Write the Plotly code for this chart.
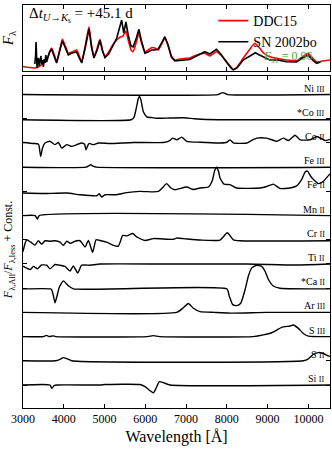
import plotly.graph_objects as go

# ---------------- top panel data ----------------
model_wave = [3000, 3150, 3300, 3450, 3550, 3620, 3700, 3770, 3825, 3900, 3965, 4030, 4110, 4200, 4315, 4380,
              4440, 4530, 4618, 4680, 4740, 4820, 4887, 4950, 5010, 5100, 5200, 5300, 5377, 5450, 5525, 5580,
              5650, 5700, 5780, 5843, 5900, 5990, 6070, 6150, 6230, 6318, 6400, 6480, 6560, 6640, 6725, 6850,
              7000, 7090, 7255, 7400, 7460, 7580, 7745, 7850, 7990, 8080, 8155, 8250, 8400, 8550, 8686, 8800,
              8900, 9054, 9250, 9460, 9710, 9850, 9993, 10100, 10200, 10350, 10530]
model_flux = [0.42, 0.32, 0.27, 0.57, 0.97, 1.47, 2.27, 1.57, 0.90, 2.07, 3.14, 2.57, 1.77, 1.87, 2.07, 1.47,
              0.90, 2.57, 4.40, 2.57, 1.40, 2.27, 3.14, 2.07, 1.40, 1.87, 2.57, 3.07, 3.34, 3.47, 3.97, 3.07,
              2.07, 1.90, 2.87, 3.74, 2.87, 1.90, 2.07, 2.30, 2.27, 2.07, 2.67, 3.24, 2.47, 1.47, 1.07, 1.17,
              1.24, 1.27, 1.57, 1.72, 1.74, 1.47, 1.90, 1.57, 0.90, 0.47, 0.12, 0.37, 1.24, 2.07, 2.74, 2.27,
              1.77, 1.40, 1.22, 1.07, 1.00, 1.37, 1.74, 1.27, 0.90, 0.97, 1.07]

obs_wave = [3290, 3310, 3320, 3330, 3345, 3360, 3380, 3400, 3420, 3440, 3460, 3480, 3500, 3520, 3540, 3560,
            3580, 3600, 3620, 3650, 3680, 3700, 3770, 3825, 3900, 3965, 4030, 4110, 4200, 4315, 4380, 4440,
            4530, 4618, 4680, 4740, 4820, 4887, 4950, 5010, 5100, 5200, 5300, 5420, 5470, 5525, 5580, 5650,
            5700, 5780, 5843, 5900, 5990, 6070, 6150, 6230, 6318, 6400, 6480, 6560, 6640, 6725, 6850, 7000,
            7090, 7255, 7400, 7460, 7580, 7745, 7850, 7990, 8080, 8155, 8250, 8400, 8550, 8650, 8700, 8800,
            8900, 9054, 9250, 9460, 9710, 9850, 9993, 10100, 10200, 10300]
obs_flux = [0.67, 1.57, 2.87, 1.27, 0.27, 0.87, 1.27, 0.47, 1.07, 1.47, 0.67, 1.07, 0.37, 1.17, 0.77, 1.57,
            0.87, 1.37, 1.47, 1.87, 2.07, 2.17, 1.37, 0.77, 1.97, 2.97, 2.37, 1.57, 1.77, 1.87, 1.27, 0.77,
            2.37, 4.17, 2.37, 1.27, 2.07, 3.02, 1.97, 1.32, 1.67, 2.47, 3.27, 5.07, 3.77, 4.87, 3.57, 2.47,
            2.37, 3.27, 4.14, 3.07, 1.74, 1.87, 2.07, 2.07, 2.17, 2.77, 3.40, 2.57, 1.37, 0.97, 1.02, 1.07,
            1.12, 1.47, 1.77, 1.90, 1.67, 2.14, 1.67, 0.80, 0.37, 0.07, 0.27, 1.07, 1.47, 1.67, 1.80, 1.57,
            1.37, 1.07, 1.07, 0.90, 0.87, 1.27, 1.57, 1.07, 0.74, 0.87]

# ---------------- bottom panel data (ratio - 1) ----------------
NiIII_wave = [3000, 7780, 7850, 7900, 7950, 8020, 10530]
NiIII_val = [0, 0, 0.05, 0.08, 0.05, 0, 0]

CoIII_wave = [3000, 5650, 5720, 5780, 5830, 5860, 5890, 5950, 6035, 6150, 6280, 6600, 6940, 7200, 7500, 10530]
CoIII_val = [-0.04, -0.04, 0.05, 0.45, 0.85, 0.92, 0.8, 0.3, 0.08, 0.05, 0.02, 0.03, 0.04, 0.0, -0.03, -0.04]

CoII_wave = [3000, 3253, 3380, 3434, 3480, 3540, 3660, 3785, 3867, 3950, 4072, 4195, 4317, 4440, 4510, 4545,
             4590, 4627, 4725, 4850, 5134, 5707, 6442, 6600, 6672, 6770, 6893, 7016, 7342, 7833, 8000, 8078,
             8160, 8488, 8600, 8733, 8978, 9224, 9387, 9510, 9673, 9796, 10041, 10205, 10409, 10530]
CoII_val = [0.02, -0.02, -0.05, -0.56, -0.2, 0.0, 0.07, -0.07, 0.02, -0.21, -0.07, -0.14, -0.07, 0.0, -0.05, -0.28,
            -0.1, -0.02, -0.07, 0.0, -0.02, 0.02, 0.02, 0.1, 0.2, 0.13, 0.24, 0.07, 0.03, 0.0, 0.03, 0.13,
            0.0, 0.0, 0.1, 0.2, 0.2, 0.07, 0.2, 0.1, 0.32, 0.13, 0.13, 0.27, 0.1, 0.15]

FeIII_wave = [3000, 4550, 4620, 4660, 4720, 4800, 10530]
FeIII_val = [0, 0, 0.06, 0.1, 0.04, 0, 0]

FeII_wave = [3000, 3498, 4072, 4400, 4808, 4870, 4930, 5011, 5299, 5544, 5870, 6197, 6320, 6420, 6525, 6620,
             6729, 7015, 7179, 7342, 7546, 7644, 7700, 7750, 7800, 7833, 7931, 8078, 8242, 8815, 8978, 9141,
             9305, 9550, 9714, 9837, 9920, 9975, 10030, 10083, 10245, 10368, 10490, 10530]
FeII_val = [-0.07, -0.09, -0.07, -0.14, -0.18, -0.1, -0.23, -0.14, -0.14, -0.05, 0.0, -0.02, 0.0, 0.15, 0.32, 0.15,
            0.07, 0.18, 0.08, 0.14, 0.18, 0.45, 0.85, 1.0, 0.8, 0.55, 0.3, 0.28, 0.14, 0.14, 0.2, 0.3,
            0.12, 0.14, 0.23, 0.5, 0.8, 0.84, 0.7, 0.56, 0.32, 0.42, 0.65, 0.72]

MnII_wave = [3000, 3300, 3350, 3400, 10530]
MnII_val = [0, 0, -0.14, 0, 0]

CrII_wave = [3000, 3050, 3090, 3190, 3294, 3376, 3458, 3540, 3663, 3785, 3908, 3990, 4072, 4170, 4276, 4400,
             4522, 4604, 4709, 4791, 4890, 5053, 5217, 5340, 5446, 5544, 5691, 5789, 5993, 6197, 6688, 6770,
             6933, 7342, 7833, 8013, 8160, 8324, 10530]
CrII_val = [-0.49, -0.15, 0.0, -0.1, -0.22, -0.04, -0.18, -0.04, -0.06, -0.04, -0.1, -0.23, -0.06, -0.15, -0.06, -0.04,
            -0.3, -0.03, -0.52, 0.0, -0.03, -0.1, -0.23, -0.26, 0.18, 0.16, 0.26, 0.12, -0.03, 0.05, 0.02, 0.07,
            0.05, -0.01, -0.01, 0.29, 0.0, -0.04, -0.04]

TiII_wave = [3000, 3020, 3100, 3180, 3260, 3355, 3458, 3580, 3663, 3785, 3908, 4030, 4154, 4235, 4342, 4440,
             4645, 4890, 6525, 8500, 9700, 10530]
TiII_val = [-0.08, -0.11, -0.18, -0.23, -0.1, -0.2, -0.04, -0.05, -0.2, -0.02, -0.05, -0.1, -0.29, -0.08, -0.37, -0.05,
            -0.05, 0.0, 0.0, 0.0, -0.04, 0.0]

CaII_wave = [3000, 3680, 3704, 3745, 3785, 3826, 3892, 3990, 4113, 4236, 8000, 8062, 8144, 8242, 8340, 8447,
             8528, 8610, 8733, 8855, 8937, 9019, 9141, 9305, 10530]
CaII_val = [-0.03, -0.03, -0.07, -0.3, -0.6, -0.38, 0.05, 0.3, 0.1, -0.03, -0.03, -0.34, -0.68, -0.72, -0.62, -0.06,
            0.5, 0.84, 0.95, 0.9, 0.7, 0.36, 0.09, 0.0, -0.03]

ArIII_wave = [3000, 6770, 6918, 7056, 7179, 7342, 7700, 8160, 8978, 10530]
ArIII_val = [0, 0, 0.17, 0.37, 0.17, 0.03, 0.0, -0.03, 0.0, 0.0]

SIII_wave = [3000, 3500, 3580, 3640, 3740, 3800, 6050, 6197, 6350, 8650, 8896, 9100, 9224, 9346, 9550, 9632,
             9755, 9877, 10000, 10530]
SIII_val = [0, 0, 0.05, 0.0, 0.03, 0.0, 0.0, 0.04, 0.0, 0.0, 0.07, 0.16, 0.27, 0.38, 0.44, 0.48,
            0.34, 0.13, 0.02, 0.0]

SII_wave = [3000, 3800, 3908, 3990, 4072, 4195, 9877, 10000, 10123, 10245, 10368, 10490, 10530]
SII_val = [0, 0, 0.06, 0.13, 0.09, 0.0, 0.0, 0.08, 0.27, 0.34, 0.3, 0.2, 0.18]

SiII_wave = [3000, 3663, 3704, 3761, 3850, 4890, 5011, 5870, 5993, 6115, 6197, 6262, 6344, 6442, 6606, 10530]
SiII_val = [0, 0, -0.14, -0.03, 0.0, 0.0, 0.02, 0.02, -0.07, -0.23, -0.32, -0.14, 0.14, 0.1, 0.0, 0.0]

species_names = ["Ni", "*Co", "Co", "Fe", "Fe", "Mn", "Cr", "Ti", "*Ca", "Ar", "S", "S", "Si"]
species_ions = ["III", "III", "II", "III", "II", "II", "II", "II", "II", "III", "III", "II", "II"]
species_offsets = [12, 11, 10, 9, 8, 7, 6, 5, 4, 3, 2, 1, 0]
species_wave = [NiIII_wave, CoIII_wave, CoII_wave, FeIII_wave, FeII_wave, MnII_wave, CrII_wave, TiII_wave,
                CaII_wave, ArIII_wave, SIII_wave, SII_wave, SiII_wave]
species_val = [NiIII_val, CoIII_val, CoII_val, FeIII_val, FeII_val, MnII_val, CrII_val, TiII_val,
               CaII_val, ArIII_val, SIII_val, SII_val, SiII_val]

tick_vals = [3000, 4000, 5000, 6000, 7000, 8000, 9000, 10000]
tick_text = ["3000", "4000", "5000", "6000", "7000", "8000", "9000", "10000"]

SERIF = "Liberation Serif, DejaVu Serif, serif"

fig = go.Figure()

fig.add_trace(go.Scatter(x=model_wave, y=model_flux, mode="lines", name="DDC15",
                         line=dict(color="#ff0000", width=1.6, shape="spline", smoothing=0.5),
                         xaxis="x", yaxis="y"))
fig.add_trace(go.Scatter(x=obs_wave, y=obs_flux, mode="lines", name="SN 2002bo",
                         line=dict(color="#000000", width=1.6),
                         xaxis="x", yaxis="y"))

for nm, ion, off, w, v in zip(species_names, species_ions, species_offsets, species_wave, species_val):
    fig.add_trace(go.Scatter(x=w, y=[off + a for a in v], mode="lines", showlegend=False,
                             line=dict(color="#000000", width=1.4, shape="spline", smoothing=0.5),
                             xaxis="x2", yaxis="y2"))
    fig.add_annotation(x=10450, y=off, xref="x2", yref="y2", xanchor="right", yanchor="bottom",
                       yshift=-1, showarrow=False,
                       text=f"{nm} <span style='font-size:8px'>{ion}</span>",
                       font=dict(family=SERIF, size=10, color="#000"))

axis_common = dict(showline=True, linecolor="#000", linewidth=1, mirror="ticks", ticks="inside",
                   ticklen=4, tickcolor="#000", showgrid=False, zeroline=False)

fig.update_layout(
    width=332, height=450,
    margin=dict(l=23, r=2, t=5, b=42),
    paper_bgcolor="white", plot_bgcolor="white",
    font=dict(family=SERIF, size=12, color="#000"),
    xaxis=dict(domain=[0, 1], range=[3000, 10530], anchor="y", tickvals=tick_vals,
               showticklabels=False, **axis_common),
    yaxis=dict(domain=[0.837, 1], range=[0, 6.57], anchor="x", showticklabels=False,
               showline=True, linecolor="#000", linewidth=1, mirror=True, ticks="",
               showgrid=False, zeroline=False),
    xaxis2=dict(domain=[0, 1], range=[3000, 10530], anchor="y2", tickvals=tick_vals, ticktext=tick_text,
                tickfont=dict(family=SERIF, size=12),
                title=dict(text="Wavelength [Å]", font=dict(family=SERIF, size=16), standoff=5),
                **axis_common),
    yaxis2=dict(domain=[0, 0.824], range=[-0.95, 12.77], anchor="x2",
                tickvals=species_offsets, showticklabels=False, **axis_common),
    showlegend=True,
    legend=dict(x=0.62, xanchor="left", y=1.0, yanchor="top", bgcolor="rgba(0,0,0,0)",
                font=dict(family=SERIF, size=14), tracegroupgap=0, itemwidth=30),
)

fig.add_annotation(xref="paper", yref="paper", x=0.012, y=1.005, xanchor="left", yanchor="top",
                   showarrow=False, text="Δ<i>t</i><sub><i>U</i>→<i>K</i><sub>s</sub></sub> = +45.1 d",
                   font=dict(family=SERIF, size=15))
fig.add_annotation(xref="paper", yref="paper", x=0.775, y=0.872, xanchor="left", yanchor="middle",
                   showarrow=False, text="<i>E</i><sub>s1</sub> = 0.96",
                   font=dict(family=SERIF, size=12, color="#3aaa35"))
fig.add_annotation(xref="paper", yref="paper", x=-0.045, y=0.918, xanchor="center", yanchor="middle",
                   showarrow=False, textangle=-90, text="<i>F</i><sub>λ</sub>",
                   font=dict(family=SERIF, size=15))
fig.add_annotation(xref="paper", yref="paper", x=-0.045, y=0.392, xanchor="center", yanchor="middle",
                   showarrow=False, textangle=-90,
                   text="<i>F</i><sub>λ,All</sub>/<i>F</i><sub>λ,less</sub> + Const.",
                   font=dict(family=SERIF, size=12))

fig.write_html("out.html", config={"displayModeBar": False},
               post_script="document.body.style.margin='0';")
